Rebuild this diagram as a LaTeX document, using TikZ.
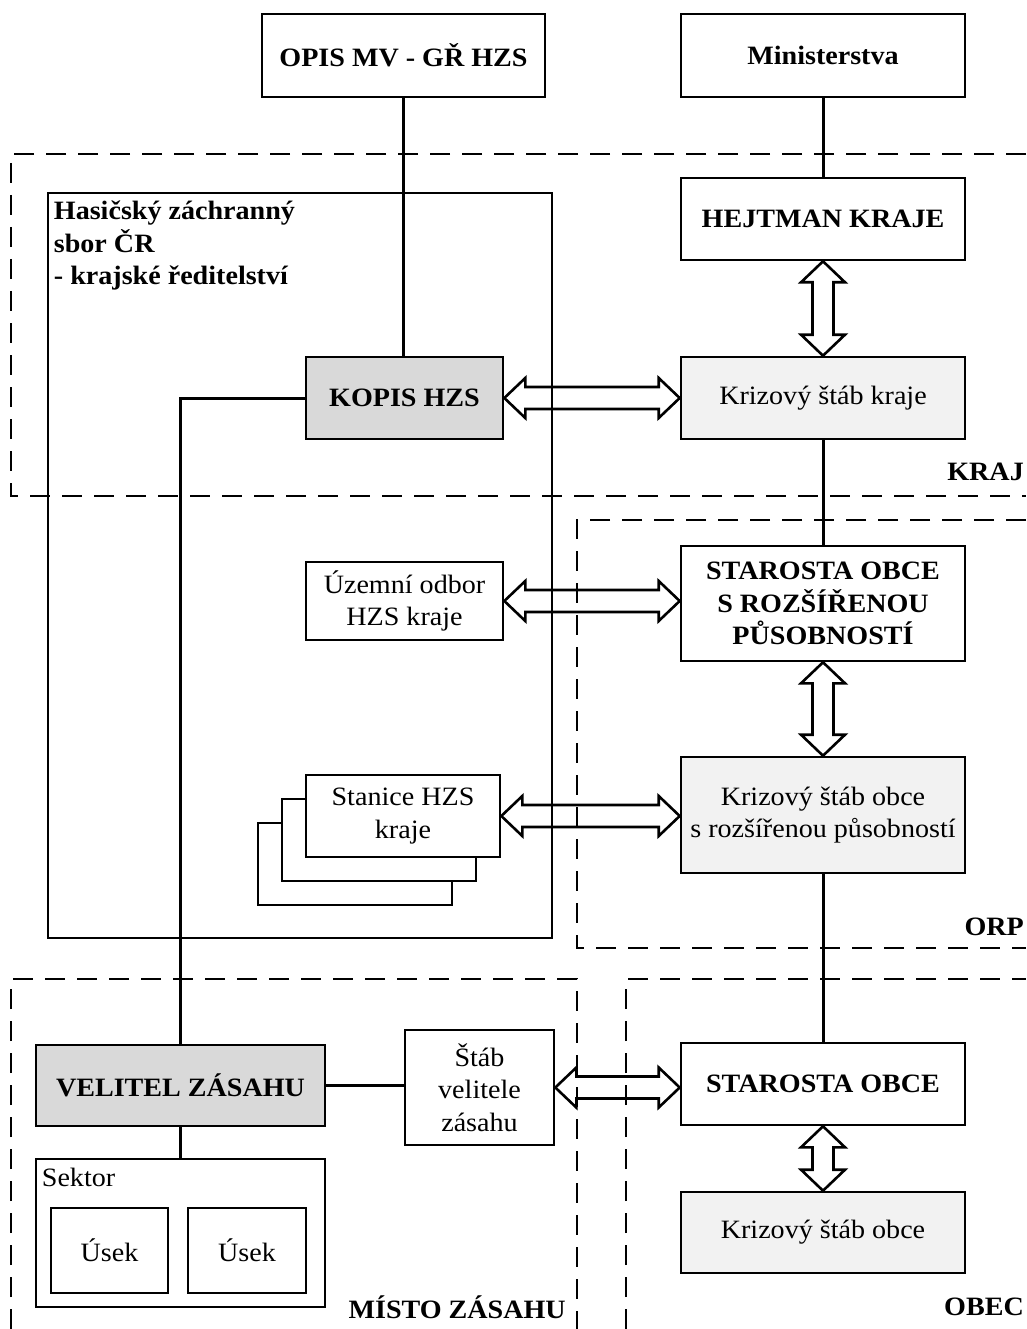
\documentclass[tikz,border=0pt]{standalone}
\usepackage{fontspec}
\setmainfont{Liberation Serif}[FakeStretch=1.06]
\usetikzlibrary{calc}

\definecolor{kopisgray}{HTML}{D9D9D9}
\definecolor{stabgray}{HTML}{F2F2F2}

\tikzset{
  box/.style={rectangle,draw,line width=2.6pt,align=center,inner sep=0pt,fill=white},
  dark/.style={box,fill=kopisgray},
  light/.style={box,fill=stabgray},
  bold/.style={font=\fontsize{26.5}{32.5}\selectfont\bfseries},
  region/.style={line width=2.6pt,dash pattern=on 20pt off 12pt},
  hollow/.style={line width=2.6pt,line join=miter},
  area/.style={bold,anchor=east,inner sep=0pt},
}

% dvojita duta sipka: vodorovne (#1 vlevo, #2 vpravo)
\newcommand{\hollowh}[2]{%
  \draw[hollow] let \p1=(#1), \p2=(#2) in
    (\x1,\y1) -- (\x1+21pt,\y1+20pt) -- (\x1+21pt,\y1+11pt) -- (\x2-21pt,\y1+11pt)
    -- (\x2-21pt,\y1+20pt) -- (\x2,\y1) -- (\x2-21pt,\y1-20pt) -- (\x2-21pt,\y1-11pt)
    -- (\x1+21pt,\y1-11pt) -- (\x1+21pt,\y1-20pt) -- cycle;}
% svisle (#1 nahore, #2 dole)
\newcommand{\hollowv}[2]{%
  \draw[hollow] let \p1=(#1), \p2=(#2) in
    (\x1,\y1) -- (\x1+22pt,\y1-21pt) -- (\x1+10.5pt,\y1-21pt) -- (\x1+10.5pt,\y2+21pt)
    -- (\x1+22pt,\y2+21pt) -- (\x1,\y2) -- (\x1-22pt,\y2+21pt) -- (\x1-10.5pt,\y2+21pt)
    -- (\x1-10.5pt,\y1-21pt) -- (\x1-22pt,\y1-21pt) -- cycle;}

\begin{document}
\begin{tikzpicture}[x=1pt,y=-1pt,font=\fontsize{26.5}{32.5}\selectfont]
            \useasboundingbox (0,0) rectangle (1026,1329);

            % oblasti
            \draw[region] (1026,154) -- (11,154) -- (11,496) -- (1026,496);
            \draw[region] (1026,520) -- (577,520) -- (577,948) -- (1026,948);
            \draw[region] (11,1329) -- (11,979) -- (577,979) -- (577,1329);
            \draw[region] (626,1329) -- (626,979) -- (1026,979);
            \node[area] (kraj)  at (1024,472)  {KRAJ};
            \node[area] (orp)   at (1024,927)  {ORP};
            \node[area] (misto) at (566,1307)  {MÍSTO ZÁSAHU};
            \node[area] (obec)  at (1024,1307) {OBEC};

            % HZS kraje
            \node[rectangle,draw,line width=2.6pt,minimum width=504pt,minimum height=745pt]
            	(hzs) at (300,565.5) {};
            \node[bold,anchor=north west,align=left,inner sep=0pt]
            	(hzstext) at ([xshift=7pt,yshift=-9pt]hzs.north west)
            	{Hasičský záchranný\\sbor ČR\\- krajské ředitelství};

            \node[box,bold,minimum width=283pt,minimum height=83pt]
            	(opis) at (403.5,55.5) {OPIS MV - GŘ HZS};
            \node[box,bold,minimum width=284pt,minimum height=83pt]
            	(minis) at (823,55.5) {Ministerstva};
            \node[box,bold,minimum width=284pt,minimum height=82pt]
            	(hejtman) at (823,219) {HEJTMAN KRAJE};
            \node[light,minimum width=284pt,minimum height=82pt]
            	(kskraje) at (823,398) {Krizový štáb kraje};
            \node[dark,bold,minimum width=197pt,minimum height=82pt]
            	(kopis) at (404.5,398) {KOPIS HZS};

            \node[box,minimum width=197pt,minimum height=78pt]
            	(uzemni) at (404.5,601) {Územní odbor\\HZS kraje};
            \node[box,bold,minimum width=284pt,minimum height=115pt]
            	(starorp) at (823,603.5) {STAROSTA OBCE\\S ROZŠÍŘENOU\\PŮSOBNOSTÍ};

            \node[box,minimum width=194pt,minimum height=82pt]
            	(stanice3) at (355,864) {};
            \node[box,minimum width=194pt,minimum height=82pt]
            	(stanice2) at (379,840) {};
            \node[box,minimum width=194pt,minimum height=82pt]
            	(stanice) at (403,816) {Stanice HZS\\kraje};
            \node[light,minimum width=284pt,minimum height=116pt]
            	(ksorp) at (823,815) {Krizový štáb obce\\s rozšířenou působností};

            \node[dark,bold,minimum width=289pt,minimum height=81pt]
            	(velitel) at (180.5,1085.5) {VELITEL ZÁSAHU};
            \node[box,minimum width=149pt,minimum height=115pt]
            	(stab) at (479.5,1087.5) {Štáb\\velitele\\zásahu};
            \node[box,bold,minimum width=284pt,minimum height=82pt]
            	(starobce) at (823,1084) {STAROSTA OBCE};
            \node[light,minimum width=284pt,minimum height=81pt]
            	(ksobce) at (823,1232.5) {Krizový štáb obce};

            \node[box,minimum width=289pt,minimum height=148pt]
            	(sektor) at (180.5,1233) {};
            \node[anchor=north west,inner sep=0pt]
            	(sektortext) at ([xshift=7pt,yshift=-10pt]sektor.north west) {Sektor};
            \node[box,minimum width=117pt,minimum height=85pt]
            	(usek1) at (109.5,1250.5) {Úsek};
            \node[box,minimum width=118pt,minimum height=85pt]
            	(usek2) at (247,1250.5) {Úsek};

            \begin{scope}[line width=3pt]
                \draw (opis.south) -- (opis.south |- kopis.north);
                \draw (minis.south) -- (hejtman.north);
                \draw (kskraje.south) -- (starorp.north);
                \draw (ksorp.south) -- (starobce.north);
                \draw (kopis.west) -| (velitel.north);
                \draw (velitel.east) -- (velitel.east -| stab.west);
                \draw (velitel.south) -- (sektor.north);
            \end{scope}

            \hollowh{kopis.east}{kskraje.west}
            \hollowh{uzemni.east}{starorp.west}
            \hollowh{stanice.east}{ksorp.west}
            \hollowh{stab.east}{starobce.west}
            \hollowv{hejtman.south}{kskraje.north}
            \hollowv{starorp.south}{ksorp.north}
            \hollowv{starobce.south}{ksobce.north}
\end{tikzpicture}
\end{document}
